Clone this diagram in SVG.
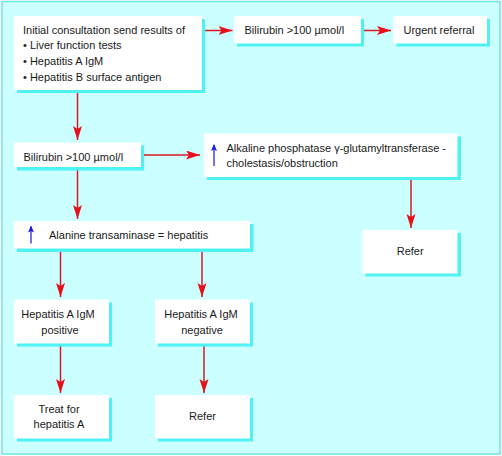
<svg xmlns="http://www.w3.org/2000/svg" width="502" height="456" viewBox="0 0 502 456">
<defs>
<marker id="ah" markerWidth="15" markerHeight="10" refX="14" refY="4.5" orient="auto" markerUnits="userSpaceOnUse">
<path d="M0,0 L14,4.5 L0,9 L3,4.5 z" fill="#e8101a"/>
</marker>
<marker id="bh" markerWidth="8" markerHeight="8" refX="6" refY="3" orient="auto" markerUnits="userSpaceOnUse">
<path d="M0,0 L7,3 L0,6 L1.5,3 z" fill="#1a1ae0"/>
</marker>
</defs>
<style>
.bg{fill:#ccffff;stroke:#6fe3e3;stroke-width:1.5}
.sh{fill:#4ef2f2}
.bx{fill:#ffffff}
text{font-family:"Liberation Sans",Arial,sans-serif;font-size:11px;fill:#1a1a1a}
.c{text-anchor:middle}
.ln{stroke:#d81a22;stroke-width:1.5;fill:none;marker-end:url(#ah)}
.up{stroke:#1a1ae0;stroke-width:1.2;fill:none;marker-end:url(#bh)}
</style>
<rect class="bg" x="2" y="1.5" width="498" height="452.5"/>

<g id="connectors">
<line class="ln" x1="203" y1="30.5" x2="232.5" y2="30.5"/>
<line class="ln" x1="361.5" y1="30.5" x2="391" y2="30.5"/>
<line class="ln" x1="77.5" y1="90" x2="77.5" y2="140"/>
<line class="ln" x1="141" y1="155" x2="200" y2="155"/>
<line class="ln" x1="77.5" y1="167" x2="77.5" y2="219"/>
<line class="ln" x1="411" y1="177" x2="411" y2="228"/>
<line class="ln" x1="60.5" y1="248.5" x2="60.5" y2="297"/>
<line class="ln" x1="202" y1="248.5" x2="202" y2="297"/>
<line class="ln" x1="60.5" y1="343.5" x2="60.5" y2="393"/>
<line class="ln" x1="204" y1="343.5" x2="204" y2="393"/>
</g>

<g id="n-initial">
<rect class="sh" x="17" y="19" width="188" height="74"/>
<rect class="bx" x="14" y="16" width="188" height="74"/>
<text x="23" y="33.5">Initial consultation send results of</text>
<text x="23" y="49.3">• Liver function tests</text>
<text x="23" y="65">• Hepatitis A IgM</text>
<text x="23" y="80.8">• Hepatitis B surface antigen</text>
</g>

<g id="n-bili-top">
<rect class="sh" x="237" y="19" width="127" height="27.5"/>
<rect class="bx" x="234" y="16" width="127" height="27.5"/>
<text x="244.5" y="33.5">Bilirubin &gt;100 µmol/l</text>
</g>

<g id="n-urgent">
<rect class="sh" x="396.5" y="19" width="93.5" height="27.5"/>
<rect class="bx" x="393.5" y="16" width="93.5" height="27.5"/>
<text x="403.5" y="33.5">Urgent referral</text>
</g>

<g id="n-bili-mid">
<rect class="sh" x="17" y="145.5" width="127" height="25"/>
<rect class="bx" x="14" y="142.5" width="127" height="24.5"/>
<text x="23.5" y="160.5">Bilirubin &gt;100 µmol/l</text>
</g>

<g id="n-alkaline">
<rect class="sh" x="207" y="136.5" width="254" height="43.5"/>
<rect class="bx" x="204" y="133.5" width="253.5" height="43.5"/>
<line class="up" x1="214" y1="166" x2="214" y2="145"/>
<text x="226.5" y="151.5">Alkaline phosphatase γ-glutamyltransferase -</text>
<text x="226.5" y="167.3">cholestasis/obstruction</text>
</g>

<g id="n-refer-right">
<rect class="sh" x="365.5" y="233" width="95.5" height="43.5"/>
<rect class="bx" x="362.5" y="230" width="95" height="43.5"/>
<text class="c" x="410.2" y="254.5">Refer</text>
</g>

<g id="n-alanine">
<rect class="sh" x="17" y="224" width="236.5" height="28"/>
<rect class="bx" x="14" y="221" width="236" height="27.5"/>
<line class="up" x1="31" y1="243.5" x2="31" y2="226.5"/>
<text x="49" y="239.3">Alanine transaminase = hepatitis</text>
</g>

<g id="n-pos">
<rect class="sh" x="17" y="302.5" width="95" height="44"/>
<rect class="bx" x="14" y="299.5" width="95" height="44"/>
<text class="c" x="58" y="318.3">Hepatitis A IgM</text>
<text class="c" x="60" y="333.5">positive</text>
</g>

<g id="n-neg">
<rect class="sh" x="158" y="302.5" width="95" height="44"/>
<rect class="bx" x="155" y="299.5" width="95" height="44"/>
<text class="c" x="201" y="318.3">Hepatitis A IgM</text>
<text class="c" x="202" y="333.5">negative</text>
</g>

<g id="n-treat">
<rect class="sh" x="17" y="398" width="95" height="43.5"/>
<rect class="bx" x="14" y="395" width="95" height="43.5"/>
<text class="c" x="59" y="412.8">Treat for</text>
<text class="c" x="59" y="428.3">hepatitis A</text>
</g>

<g id="n-refer-bottom">
<rect class="sh" x="158" y="398" width="95" height="43.5"/>
<rect class="bx" x="155" y="395" width="95" height="43.5"/>
<text class="c" x="202.5" y="420.3">Refer</text>
</g>
</svg>
